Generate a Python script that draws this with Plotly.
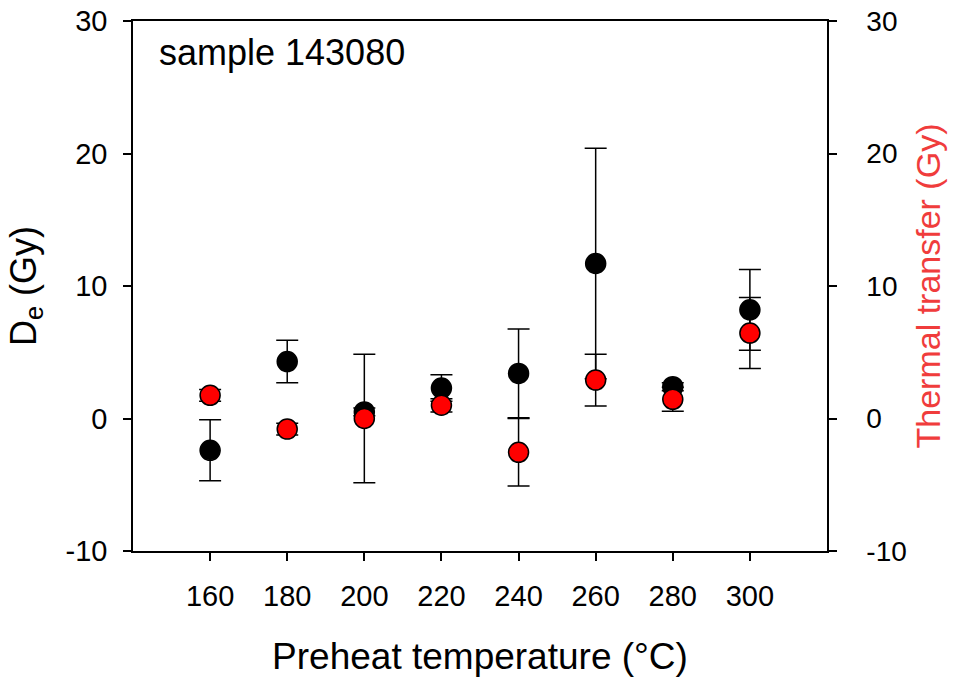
import plotly.graph_objects as go

temps = [160, 180, 200, 220, 240, 260, 280, 300]
de_values = [-2.4, 4.3, 0.5, 2.3, 3.4, 11.7, 2.4, 8.2]
de_errors = [2.3, 1.6, 0.3, 1.0, 3.35, 8.7, 0.3, 3.05]
tt_values = [1.75, -0.8, 0.0, 1.0, -2.55, 2.9, 1.45, 6.45]
tt_errors = [0.44, 0.45, 4.85, 0.5, 2.55, 1.95, 0.9, 2.68]

x_ticks = [160, 180, 200, 220, 240, 260, 280, 300]
y_ticks = [-10, 0, 10, 20, 30]
y_tick_text = ["-10", "0", "10", "20", "30"]

FONT = "Liberation Sans, Arial, sans-serif"
RED_TITLE = "#f03c3c"

fig = go.Figure()
fig.add_trace(go.Scatter(
    x=temps, y=de_values, mode="markers",
    marker=dict(size=20, color="black", line=dict(color="black", width=1.5)),
    error_y=dict(type="data", array=de_errors, visible=True, color="black",
                 thickness=1.5, width=11),
    showlegend=False, yaxis="y",
))
fig.add_trace(go.Scatter(
    x=temps, y=tt_values, mode="markers",
    marker=dict(size=20, color="#ff0000", line=dict(color="black", width=1.5)),
    error_y=dict(type="data", array=tt_errors, visible=True, color="black",
                 thickness=1.5, width=11),
    showlegend=False, yaxis="y2",
))

fig.update_layout(
    width=961, height=681,
    margin=dict(l=133, r=134, t=21, b=130),
    paper_bgcolor="white", plot_bgcolor="white",
    font=dict(family=FONT, color="black"),
    xaxis=dict(
        range=[140, 320], tickvals=x_ticks, ticks="outside", ticklen=8,
        tickwidth=1.5, tickcolor="black", showline=True, linecolor="black",
        linewidth=1.5, mirror=True, showgrid=False, zeroline=False,
        automargin=False,
        tickfont=dict(size=29, family=FONT), ticklabelstandoff=10,
        title=dict(text="Preheat temperature (°C)", font=dict(size=37, family=FONT),
                   standoff=33),
    ),
    yaxis=dict(
        range=[-10, 30], tickvals=y_ticks, ticktext=y_tick_text, ticks="outside",
        ticklen=8, tickwidth=1.5, tickcolor="black", showline=True,
        linecolor="black", linewidth=1.5, showgrid=False, zeroline=False,
        automargin=False,
        tickfont=dict(size=29, family=FONT), ticklabelstandoff=10,
        title=dict(text="D<sub>e</sub> (Gy)", font=dict(size=36, family=FONT),
                   standoff=18),
    ),
    yaxis2=dict(
        range=[-10, 30], tickvals=y_ticks, ticktext=y_tick_text, ticks="outside",
        ticklen=8, tickwidth=1.5, tickcolor="black", showline=True,
        linecolor="black", linewidth=1.5, showgrid=False, zeroline=False,
        automargin=False,
        overlaying="y", side="right", tickfont=dict(size=28, family=FONT),
        ticklabelstandoff=24,
        title=dict(text="Thermal transfer (Gy)",
                   font=dict(size=34, family=FONT, color=RED_TITLE), standoff=10),
    ),
    annotations=[dict(
        text="sample 143080", xref="paper", yref="paper", x=0.035, y=0.94,
        xanchor="left", yanchor="middle", showarrow=False,
        font=dict(size=36, family=FONT, color="black"),
    )],
)

fig.write_html("out.html")
